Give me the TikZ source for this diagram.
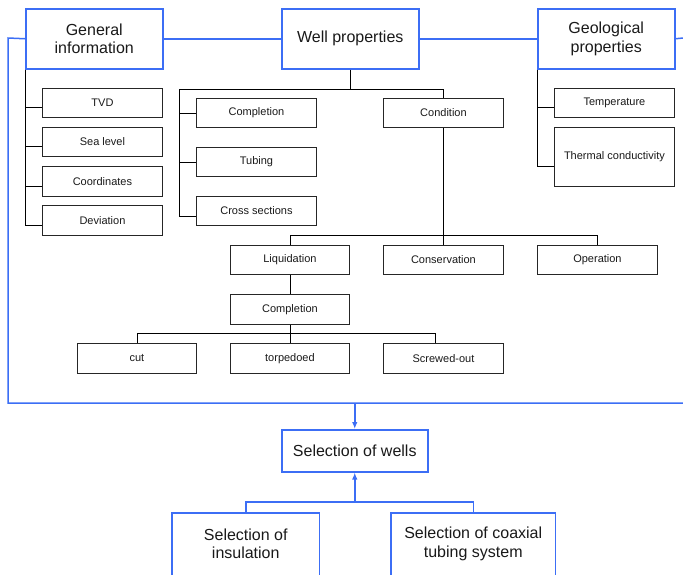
\documentclass[tikz,border=0pt]{standalone}
\usepackage{fontspec}
\setmainfont{Liberation Sans}
\usetikzlibrary{arrows.meta}
\definecolor{fblue}{RGB}{60,110,245}
\definecolor{txt}{RGB}{25,25,25}
\begin{document}
\begin{tikzpicture}[x=1pt,y=-1pt,
 bigbox/.style={draw=fblue, line width=1.5pt, inner sep=0pt, align=center, anchor=north west, font=\fontsize{16}{18.4}\selectfont, text=txt},
 openbox/.style={bigbox, draw=none},
 smallbox/.style={draw=black!85, line width=0.9pt, inner sep=0pt, align=center, anchor=north west, font=\fontsize{11}{13}\selectfont, text=txt},
 bline/.style={draw=fblue, line width=1.5pt},
 kline/.style={draw=black, line width=0.8pt},
 arr/.style={bline, -{Latex[length=7pt,width=5.5pt]}}]
\useasboundingbox (0,0) rectangle (683,574);
\clip (0,0) rectangle (683,574);
% top-level boxes
\node[bigbox, minimum width=137pt, minimum height=60pt] (gen) at (25,8) {General\\information};
\node[bigbox, minimum width=137pt, minimum height=60pt] (wp) at (281,8) {Well properties};
\node[bigbox, minimum width=137pt, minimum height=60pt] (geo) at (537,8) {Geological\\properties};
% general information children
\node[smallbox, minimum width=120pt, minimum height=29pt] (tvd) at (42,88) {TVD};
\node[smallbox, minimum width=120pt, minimum height=29pt] (sea) at (42,127) {Sea level};
\node[smallbox, minimum width=120pt, minimum height=30pt] (coord) at (42,166) {Coordinates};
\node[smallbox, minimum width=120pt, minimum height=30pt] (dev) at (42,205) {Deviation};
% well properties children
\node[smallbox, minimum width=120pt, minimum height=29pt] (compl) at (196,98) {Completion};
\node[smallbox, minimum width=120pt, minimum height=29pt] (tub) at (196,147) {Tubing};
\node[smallbox, minimum width=120pt, minimum height=29pt] (cross) at (196,196) {Cross sections};
\node[smallbox, minimum width=120pt, minimum height=29pt] (cond) at (383,98) {Condition};
% geological children
\node[smallbox, minimum width=120pt, minimum height=29pt] (temp) at (554,88) {Temperature};
\node[smallbox, minimum width=120pt, minimum height=59pt] (therm) at (554,127) {Thermal conductivity};
% condition children
\node[smallbox, minimum width=119pt, minimum height=29pt] (liq) at (230,245) {Liquidation};
\node[smallbox, minimum width=120pt, minimum height=29pt] (cons) at (383,245) {Conservation};
\node[smallbox, minimum width=120pt, minimum height=29pt] (oper) at (537,245) {Operation};
\node[smallbox, minimum width=119pt, minimum height=30pt] (compl2) at (230,294) {Completion};
\node[smallbox, minimum width=119pt, minimum height=30pt] (cut) at (77,343) {cut};
\node[smallbox, minimum width=119pt, minimum height=30pt] (torp) at (230,343) {torpedoed};
\node[smallbox, minimum width=120pt, minimum height=30pt] (screw) at (383,343) {Screwed-out};
% selection boxes
\node[bigbox, minimum width=146pt, minimum height=42pt] (sel) at (281,429) {Selection of wells};
\node[openbox, minimum width=146pt, minimum height=60pt] (ins) at (172,513) {Selection of\\insulation};
\node[openbox, minimum width=163pt, minimum height=60pt] (coax) at (391,513) {Selection of coaxial\\tubing system};
\draw[bline] ([yshift=-20pt]ins.south west) -- (ins.north west) -- (ins.north east) -- ([yshift=-20pt]ins.south east);
\draw[bline] ([yshift=-20pt]coax.south west) -- (coax.north west) -- (coax.north east) -- ([yshift=-20pt]coax.south east);
% black connectors: general information
\draw[kline] (gen.south west) |- ([yshift=-5pt]dev.west);
\draw[kline] ([yshift=-4.5pt]tvd.west) -| (gen.south west);
\draw[kline] ([yshift=-4.5pt]sea.west) -| (gen.south west);
\draw[kline] ([yshift=-4.5pt]coord.west) -| (gen.south west);
% well properties
\path (wp.south) ++(0,20) coordinate (wpbar);
\path (wpbar) ++(-170.5,0) coordinate (wl);
\draw[kline] (wp.south) -- (wpbar) -| (cond.north);
\draw[kline] (wpbar) -- (wl) |- ([yshift=-5.5pt]cross.west);
\draw[kline] (compl.west) -| (wl);
\draw[kline] (tub.west) -| (wl);
% geological
\draw[kline] (geo.south west) |- ([yshift=-9.5pt]therm.west);
\draw[kline] ([yshift=-4.5pt]temp.west) -| (geo.south west);
% condition
\draw[kline] (cond.south) -- (cons.north);
\draw[kline] (liq.north) -- ++(0,-10) -| (oper.north);
\draw[kline] (liq.south) -- (compl2.north);
\draw[kline] (compl2.south) -- (torp.north);
\draw[kline] (cut.north) -- ++(0,-10) -| ([xshift=-8pt]screw.north);
% blue frame
\coordinate (tl) at (8,38);
\coordinate (bl) at (8,403);
\coordinate (tr) at (683,38);
\coordinate (br) at (683,403);
\draw[bline] (gen.west) -- (tl) -- (bl) -- (br);
\draw[bline] (gen.east) -- (wp.west);
\draw[bline] (wp.east) -- (geo.west);
\draw[bline] (geo.east) -- (tr);
\draw[arr] (sel.north |- bl) -- (sel.north);
\path (sel.south |- ins.north) ++(0,-11) coordinate (j2);
\draw[bline] (ins.north) |- (j2) -| (coax.north);
\draw[arr] (j2) -- (sel.south);
\end{tikzpicture}
\end{document}
